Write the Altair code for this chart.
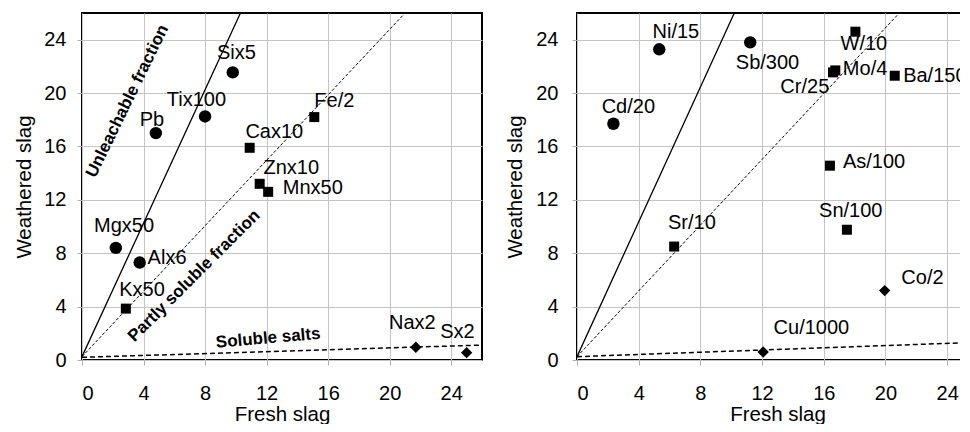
import altair as alt
import pandas as pd

FONT = "Liberation Sans"

# ---------------- left panel data ----------------
left_labels = ["Six5", "Tix100", "Pb", "Mgx50", "Alx6", "Fe/2", "Cax10", "Znx10",
               "Mnx50", "Kx50", "Nax2", "Sx2"]
left_fresh = [9.8, 8.0, 4.8, 2.2, 3.75, 15.1, 10.9, 11.55, 12.1, 2.85, 21.7, 25.0]
left_weathered = [21.55, 18.25, 17.0, 8.4, 7.3, 18.2, 15.9, 13.2, 12.6, 3.85, 0.95, 0.55]
left_group = ["unleachable"] * 5 + ["partly soluble"] * 5 + ["soluble"] * 2
left_label_x = [10.04, 7.44, 4.55, 2.73, 5.53, 16.4, 12.5, 13.6, 15.0, 3.9, 21.47, 24.4]
left_label_y = [23.0, 19.5, 18.0, 10.05, 7.63, 19.4, 17.1, 14.4, 12.9, 5.25, 2.8, 2.12]

# reference lines (fresh, weathered endpoints)
left_unleach_x = [0, 10.3]
left_unleach_y = [0.25, 26]
left_partly_x = [0, 21.0]
left_partly_y = [0.25, 26]
left_salts_x = [0, 26]
left_salts_y = [0.2, 1.12]

# annotations
annot_text = ["Unleachable fraction", "Partly soluble fraction", "Soluble salts"]
annot_x = [2.95, 7.29, 12.1]
annot_y = [19.4, 6.3, 1.63]

# ---------------- right panel data ----------------
right_labels = ["Ni/15", "Sb/300", "Cd/20", "W/10", "Mo/4", "Cr/25", "Ba/150",
                "As/100", "Sn/100", "Sr/10", "Co/2", "Cu/1000"]
right_fresh = [5.33, 11.23, 2.36, 18.05, 16.75, 16.6, 20.6, 16.4, 17.5, 6.3, 19.95, 12.07]
right_weathered = [23.28, 23.8, 17.7, 24.6, 21.7, 21.55, 21.3, 14.56, 9.76, 8.5, 5.2, 0.6]
right_group = (["unleachable"] * 3 + ["partly soluble"] * 7 + ["soluble"] * 2)
right_label_x = [6.41, 12.35, 3.33, 18.6, 18.68, 14.77, 23.2, 19.26, 17.75, 7.45, 22.4, 15.2]
right_label_y = [24.6, 22.28, 18.97, 23.7, 21.84, 20.42, 21.26, 14.8, 11.13, 10.26, 6.15, 2.42]

right_unleach_x = [0, 10.2]
right_unleach_y = [0.25, 26]
right_partly_x = [0, 20.9]
right_partly_y = [0.25, 26]
right_salts_x = [0, 26]
right_salts_y = [0.25, 1.33]

ticks = [0, 4, 8, 12, 16, 20, 24]

# marker style per group
group_names = ["unleachable", "partly soluble", "soluble"]
group_shapes = ["circle", "square", "diamond"]
group_sizes = [155, 100, 130]


def build_panel(labels, fresh, weathered, group, lx, ly, lines, width, height,
                title_x, y_label_pad, annotations=None):
    pts = pd.DataFrame({"label": labels, "fresh": fresh, "weathered": weathered,
                        "group": group, "lx": lx, "ly": ly})
    xs = alt.Scale(domain=[0, 26], nice=False, zero=False)
    ys = alt.Scale(domain=[0, 26], nice=False, zero=False)
    xaxis = alt.Axis(values=ticks, grid=True, gridColor="#c4c4c4", gridWidth=1,
                     tickColor="#b0b0b0", tickSize=5, domain=False,
                     labelFont=FONT, labelFontSize=20, labelColor="black",
                     labelPadding=18, title="Fresh slag", titleFont=FONT,
                     titleFontSize=20.5, titleFontWeight="normal", titleColor="black",
                     titleY=60, titleBaseline="alphabetic")
    yaxis = alt.Axis(values=ticks, grid=True, gridColor="#c4c4c4", gridWidth=1,
                     tickColor="#b0b0b0", tickSize=5, domain=False,
                     labelFont=FONT, labelFontSize=20, labelColor="black",
                     labelPadding=y_label_pad, title="Weathered slag", titleFont=FONT,
                     titleFontSize=20.5, titleFontWeight="normal", titleColor="black",
                     titleX=title_x, titleY=height / 2, titleAngle=270,
                     titleBaseline="middle", titleAlign="center")

    layers = []
    styles = [(1.3, []), (1.0, [3, 2]), (1.5, [5, 3])]
    for (lxs, lys), (sw, dash) in zip(lines, styles):
        ldf = pd.DataFrame({"fresh": lxs, "weathered": lys})
        kw = dict(clip=True, color="black", strokeWidth=sw)
        if dash:
            kw["strokeDash"] = dash
        layers.append(alt.Chart(ldf).mark_line(**kw).encode(
            x=alt.X("fresh:Q", scale=xs, axis=xaxis),
            y=alt.Y("weathered:Q", scale=ys, axis=yaxis)))

    if annotations is not None:
        angles = [296, 315, 355]
        for t, ax_, ay_, ang in zip(*annotations, angles):
            adf = pd.DataFrame({"t": [t], "x": [ax_], "y": [ay_]})
            layers.append(alt.Chart(adf).mark_text(
                font=FONT, fontSize=17, fontWeight="bold", color="black",
                angle=ang, align="center", baseline="middle").encode(
                x=alt.X("x:Q", scale=xs), y=alt.Y("y:Q", scale=ys), text="t:N"))

    base = alt.Chart(pts)
    for gname, gshape, gsize in zip(group_names, group_shapes, group_sizes):
        layers.append(base.transform_filter(alt.datum.group == gname).mark_point(
            filled=True, opacity=1, color="black", shape=gshape, size=gsize).encode(
            x=alt.X("fresh:Q", scale=xs),
            y=alt.Y("weathered:Q", scale=ys)))
    layers.append(base.mark_text(font=FONT, fontSize=20, color="black",
                                 align="center", baseline="middle").encode(
        x=alt.X("lx:Q", scale=xs), y=alt.Y("ly:Q", scale=ys), text="label:N"))

    return alt.layer(*layers).properties(width=width, height=height)


left = build_panel(left_labels, left_fresh, left_weathered, left_group,
                   left_label_x, left_label_y,
                   [(left_unleach_x, left_unleach_y), (left_partly_x, left_partly_y),
                    (left_salts_x, left_salts_y)],
                   400, 347, -58, 11,
                   annotations=(annot_text, annot_x, annot_y))

right = build_panel(right_labels, right_fresh, right_weathered, right_group,
                    right_label_x, right_label_y,
                    [(right_unleach_x, right_unleach_y), (right_partly_x, right_partly_y),
                     (right_salts_x, right_salts_y)],
                    401, 347, -62, 14)

chart = alt.hconcat(left, right, spacing=21).properties(
    padding={"left": 5, "top": 4, "right": -19, "bottom": -2},
    background="white",
).configure_view(stroke="black", strokeWidth=2)

chart.save("out.html", embed_options={"renderer": "svg", "actions": False})
